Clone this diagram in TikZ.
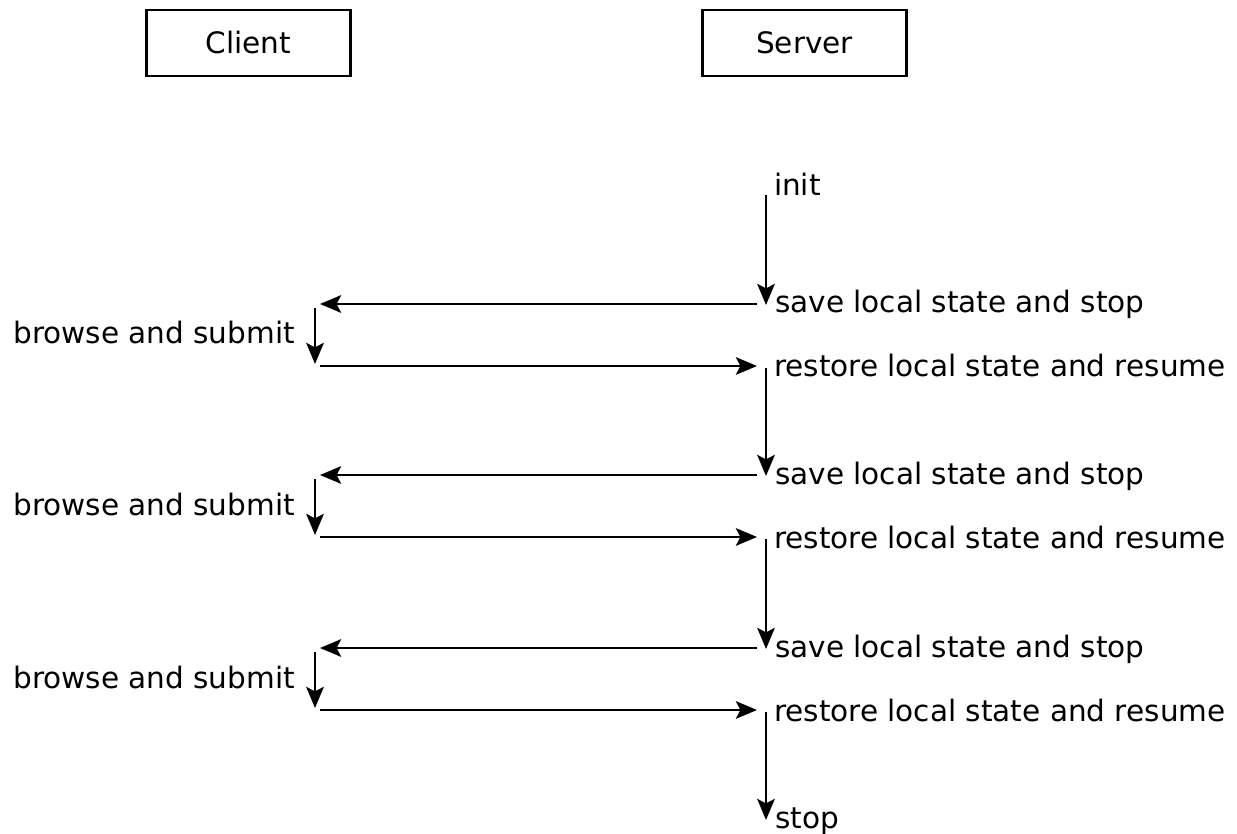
\documentclass[tikz,border=0pt]{standalone}
\usepackage{fontspec}
\setmainfont{DejaVu Sans}
\usetikzlibrary{arrows.meta, positioning}

\begin{document}
\begin{tikzpicture}[x=0.02cm, y=-0.02cm, line width=1.2pt,
    >={Stealth[length=12pt, width=10pt, inset=2.5pt]},
    every node/.style={font=\fontsize{16.8}{20}\selectfont},
    party/.style={draw, line width=1.3pt, minimum width=4.08cm, minimum height=1.32cm},
    msg/.style={anchor=base west, inner sep=0pt},
    act/.style={anchor=base east, inner sep=0pt}]
  \useasboundingbox (0,0) rectangle (1237,834);
  \node[party] (client) at (248.5,43) {Client};
  \node[party] (server) at (804.5,43) {Server};
  \node[msg] (init) at (773,196) {init};
  \coordinate (s0) at (766,195);
  \foreach \r/\y in {1/304, 2/475, 3/648} {
    \node[msg] (save\r) at (774,\y+9) {save local state and stop};
    \node[msg] (restore\r) at (773,\y+73) {restore local state and resume};
    \node[act] (browse\r) at (296,\y+40) {browse and submit};
    \coordinate (tip\r) at (766,\y+1);
    \coordinate (go\r) at (766,\y+64);
    \coordinate (out\r) at (757,\y);
    \coordinate (in\r) at (320,\y);
    \coordinate (top\r) at (315,\y+4);
    \coordinate (bot\r) at (315,\y+60);
    \coordinate (back\r) at (320,\y+62);
    \coordinate (home\r) at (757,\y+62);
    \draw[->] (out\r) -- (in\r);
    \draw[->] (top\r) -- (bot\r);
    \draw[->] (back\r) -- (home\r);
  }
  \node[msg] (stop) at (774,828) {stop};
  \coordinate (s4) at (766,820);
  \foreach \a/\b in {s0/tip1, go1/tip2, go2/tip3, go3/s4}
    \draw[->] (\a) -- (\b);
\end{tikzpicture}
\end{document}
